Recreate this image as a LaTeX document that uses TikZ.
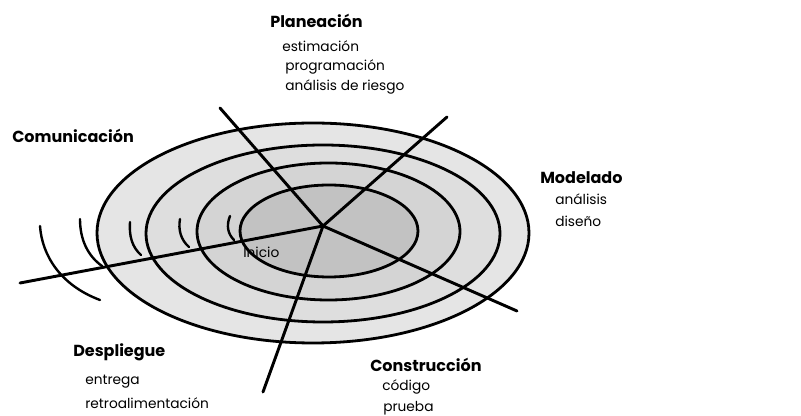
\documentclass[tikz,border=0pt]{standalone}
\usepackage{fontspec}
\setmainfont{Poppins}
\begin{document}
\begin{tikzpicture}[x=0.75pt,y=-0.75pt,
  axisline/.style={line width=2.2pt, line cap=round},
  ring/.style={line width=2.1pt},
  arcline/.style={line width=1.8pt, line cap=round},
  head/.style={font=\fontsize{12}{13}\selectfont\bfseries, inner sep=0pt, anchor=west},
  item/.style={font=\fontsize{10.3}{11}\selectfont, inner sep=0pt, anchor=west}]
\useasboundingbox (0,0) rectangle (801,416);
\fill[white] (0,0) rectangle (801,416);
% rings
\draw[ring, fill=black!10] (313,233) ellipse [x radius=216, y radius=110];
\draw[ring, fill=black!13] (323,233.5) ellipse [x radius=177, y radius=88.5];
\draw[ring, fill=black!17] (328.5,231.5) ellipse [x radius=131.5, y radius=68.5];
\draw[ring, fill=black!24] (329,231) ellipse [x radius=89, y radius=46];
% spiral arcs on the left
\draw[arcline] (230,216) .. controls (226,226) and (228,234) .. (234,240);
\draw[arcline] (180,219) .. controls (178,230) and (181,240) .. (189,247);
\draw[arcline] (130,222) .. controls (129,236) and (132,247) .. (141,255);
\draw[arcline] (80,219) .. controls (80,240) and (88,256) .. (102,266);
\draw[arcline] (40,226) .. controls (42,255) and (60,285) .. (100,300);
% axes
\coordinate (c) at (323,226);
\coordinate (pUL) at (220,108);
\coordinate (pUR) at (447,117);
\coordinate (pR) at (517,311);
\coordinate (pB) at (263,392);
\coordinate (pL) at (20,283);
\draw[axisline] (c) -- (pUL);
\draw[axisline] (c) -- (pUR);
\draw[axisline] (c) -- (pR);
\draw[axisline] (c) -- (pB);
\draw[axisline] (c) -- (pL);
% labels
\node[head] (plan) at (270,21) {Planeación};
\node[item] (plan1) at (282,46) {estimación};
\node[item] (plan2) at (285,67) {programación};
\node[item] (plan3) at (285,87) {análisis de riesgo};
\node[head] (com) at (12,136) {Comunicación};
\node[head] (mod) at (540,178) {Modelado};
\node[item] (mod1) at (555,199) {análisis};
\node[item] (mod2) at (555,221) {diseño};
\node[head] (desp) at (73,352) {Despliegue};
\node[item] (desp1) at (85,382) {entrega};
\node[item] (desp2) at (85,403) {retroalimentación};
\node[head] (cons) at (370,365) {Construcción};
\node[item] (cons1) at (382,387) {código};
\node[item] (cons2) at (383,408) {prueba};
\node[item] (ini) at (243,252) {Inicio};
\end{tikzpicture}
\end{document}
